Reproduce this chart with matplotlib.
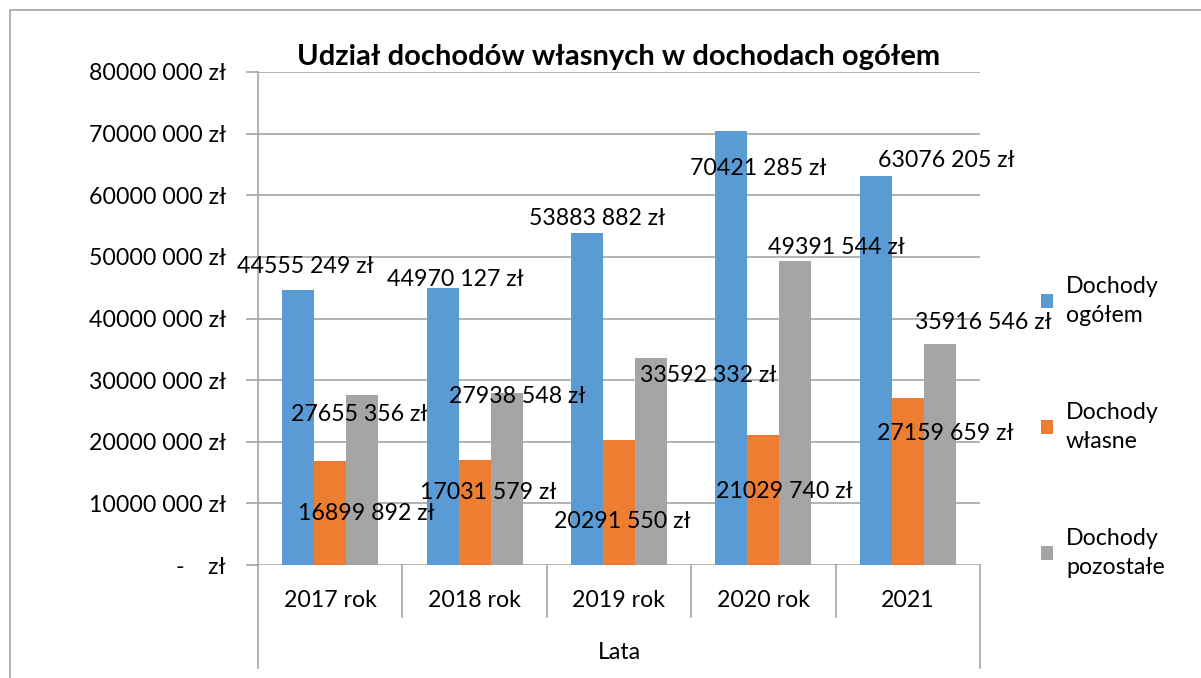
import matplotlib
matplotlib.use("Agg")
import matplotlib.pyplot as plt
import matplotlib.patches as mpatches
import matplotlib.transforms as mtransforms
import numpy as np

plt.rcParams['font.family'] = ['Lato', 'DejaVu Sans']

# dane
lata = ["2017 rok", "2018 rok", "2019 rok", "2020 rok", "2021"]
dochody_ogolem = [44555249, 44970127, 53883882, 70421285, 63076205]
dochody_wlasne = [16899892, 17031579, 20291550, 21029740, 27159659]
dochody_pozostale = [27655356, 27938548, 33592332, 49391544, 35916546]
serie = ["Dochody\nogółem", "Dochody\nwłasne", "Dochody\npozostałe"]
kolory = ["#5B9BD5", "#ED7D31", "#A5A5A5"]

# polozenie etykiet danych (przesuniecie w kategorii, wysokosc w zl) - recznie przesuniete jak w Excelu
etykiety_pos = [
    [(-0.175, 48.5e6), (-0.136, 46.3e6), (-0.152, 56.3e6), (-0.037, 64.4e6), (0.265, 65.7e6)],
    [(0.248, 8.4e6), (0.093, 11.7e6), (0.021, 7.1e6), (0.143, 12.0e6), (0.258, 21.4e6)],
    [(0.199, 24.4e6), (0.294, 27.3e6), (0.616, 30.7e6), (0.503, 51.5e6), (0.52, 39.3e6)],
]

FS = 16.7


def zl(v):
    v = int(round(v))
    if v == 0:
        return "-    zł"
    return f"{v // 1000} {v % 1000:03d} zł"


W, H = 1201, 678
fig = plt.figure(figsize=(W / 100, H / 100), dpi=100)
ax = fig.add_axes([258 / W, 1 - 565 / H, (980 - 258) / W, (565 - 72) / H])

# ramka wykresu
fig.add_artist(mpatches.Rectangle((10 / W, -0.5), 2, 1.5 - 10 / H, transform=fig.transFigure,
                                  fill=False, edgecolor="#A6A6A6", lw=1.2))

x = np.arange(len(lata))
bw = 0.222
wszystkie = [dochody_ogolem, dochody_wlasne, dochody_pozostale]
bars = []
for i, (vals, c) in enumerate(zip(wszystkie, kolory)):
    b = ax.bar(x + (i - 1) * bw, vals, bw, color=c, zorder=3)
    bars.append(b)
    for j, v in enumerate(vals):
        dx, yy = etykiety_pos[i][j]
        ax.text(j + dx, yy, zl(v), ha="center", va="center", fontsize=FS, zorder=4)

ax.set_xlim(-0.5, len(lata) - 0.5)
ax.set_ylim(0, 80e6)
ax.set_yticks(np.arange(0, 80e6 + 1, 10e6))
ax.set_yticklabels([zl(v) for v in np.arange(0, 80e6 + 1, 10e6)], fontsize=FS)
ax.tick_params(axis="y", length=9, width=1.2, color="#A6A6A6", pad=14)
ax.set_xticks([])
ax.grid(axis="y", color="#A6A6A6", lw=1.2, zorder=0)
for s in ["top", "right", "bottom"]:
    ax.spines[s].set_visible(False)
ax.spines["left"].set_color("#A6A6A6")
ax.spines["left"].set_linewidth(1.2)

# os kategorii (dwupoziomowa)
tr = mtransforms.blended_transform_factory(ax.transData, ax.transAxes)
for k in range(len(lata) + 1):
    dol = -0.209 if k in (0, len(lata)) else -0.106
    ax.plot([k - 0.5, k - 0.5], [0, dol], transform=tr, color="#A6A6A6", lw=1.2, clip_on=False)
for j, nazwa in enumerate(lata):
    ax.text(j, -0.073, nazwa, transform=tr, ha="center", va="center", fontsize=FS)
ax.text(2, -0.178, "Lata", transform=tr, ha="center", va="center", fontsize=FS)

ax.set_title("Udział dochodów własnych w dochodach ogółem", fontsize=21, fontweight="bold", pad=5)

leg = ax.legend(bars, serie, loc="center left", bbox_to_anchor=(1.055, 0.28), frameon=False,
                fontsize=FS, handlelength=0.55, handleheight=0.55, labelspacing=3.3, handletextpad=0.55)
for t in leg.get_texts():
    t.set_linespacing(1.45)

fig.savefig("out.png", dpi=100)
